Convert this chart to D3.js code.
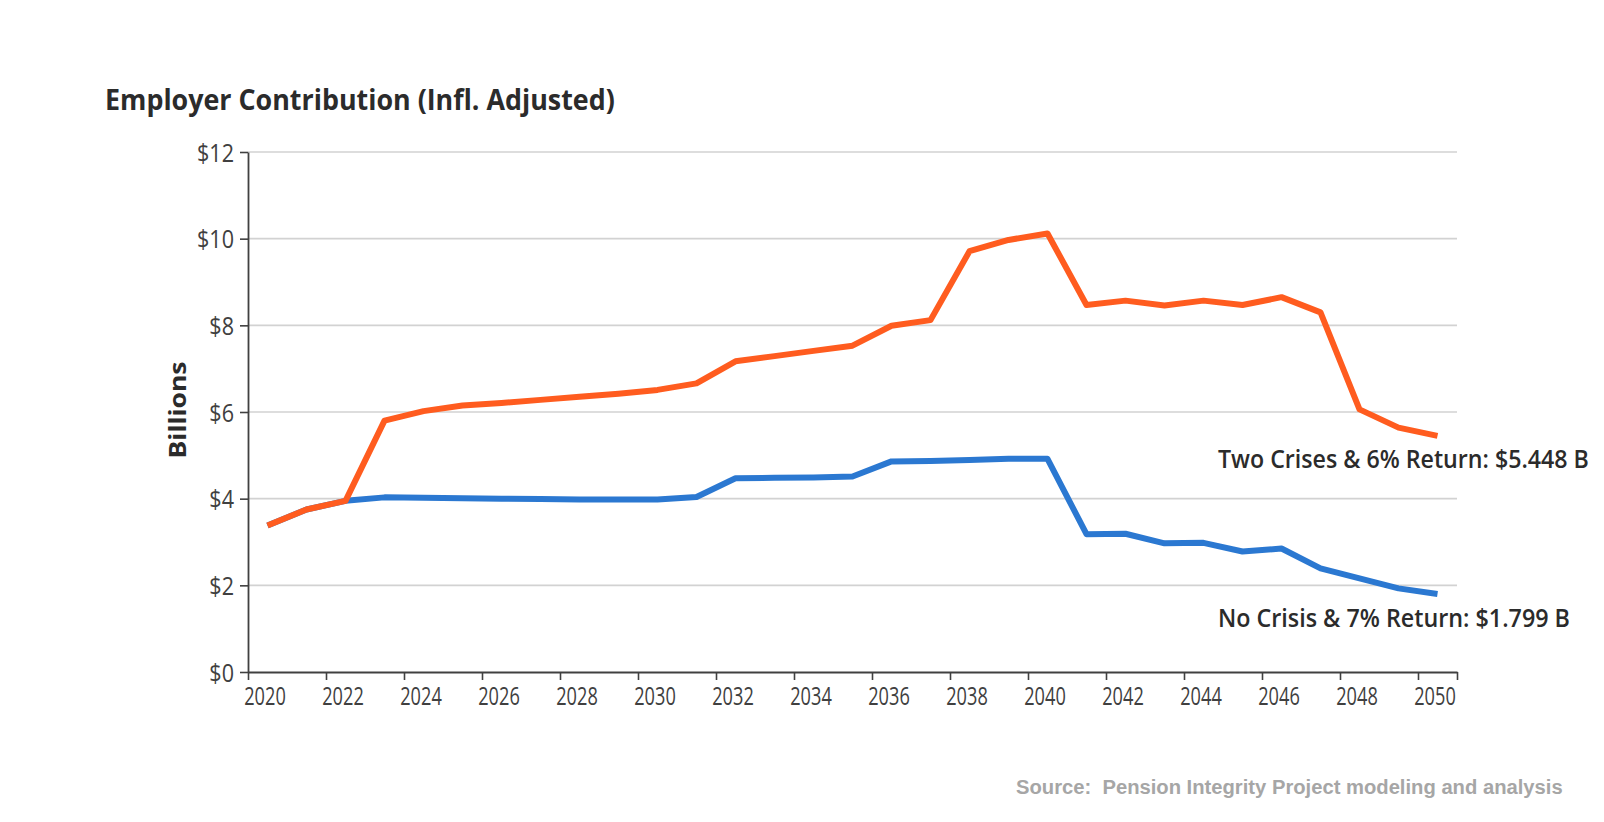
<!DOCTYPE html>
<html><head><meta charset="utf-8">
<script src="https://cdn.jsdelivr.net/npm/d3@7"></script>
<style>html,body{margin:0;padding:0;background:#fff;} svg{display:block;}</style>
</head><body>
<svg id="chart" width="1604" height="822"></svg>
<script>
const years = [2020,2021,2022,2023,2024,2025,2026,2027,2028,2029,2030,2031,2032,2033,2034,2035,2036,2037,2038,2039,2040,2041,2042,2043,2044,2045,2046,2047,2048,2049,2050];
const twoCrises = [3.38,3.75,3.95,5.80,6.02,6.15,6.21,6.28,6.35,6.42,6.51,6.66,7.17,7.29,7.41,7.53,7.99,8.12,9.71,9.97,10.12,8.47,8.57,8.46,8.57,8.47,8.65,8.30,6.06,5.64,5.448];
const noCrisis = [3.38,3.75,3.95,4.03,4.02,4.01,4.00,3.99,3.98,3.98,3.98,4.04,4.47,4.48,4.49,4.51,4.86,4.87,4.89,4.92,4.92,3.18,3.19,2.97,2.98,2.78,2.85,2.39,2.16,1.93,1.799];
const yTicks = [0,2,4,6,8,10,12];
const xLabelYears = [2020,2022,2024,2026,2028,2030,2032,2034,2036,2038,2040,2042,2044,2046,2048,2050];
const title = "Employer Contribution (Infl. Adjusted)";
const yTitle = "Billions";
const labelTwo = "Two Crises & 6% Return: $5.448 B";
const labelNo = "No Crisis & 7% Return: $1.799 B";
const source = "Source:  Pension Integrity Project modeling and analysis";

(function () {
const svg = d3.select("#chart");
const pLeft = 248, pRight = 1457, pTop = 152, pBottom = 672;
const x = d3.scaleLinear().domain([years[0]-0.5, years[years.length-1]+0.5]).range([pLeft, pRight]);
const y = d3.scaleLinear().domain([0, 12]).range([pBottom, pTop]);
const tickFont = "'Open Sans', sans-serif";
const SXY = 0.83, SXX = 0.70;

function fitText(str, px, py, width, opts) {
  const t = svg.append("text").text(str)
    .attr("font-family", opts.family).attr("font-weight", opts.weight)
    .attr("font-size", opts.size).attr("fill", opts.fill)
    .attr("text-anchor", opts.anchor || "start")
    .style("white-space", "pre").attr("xml:space", "preserve");
  const natural = t.node().getComputedTextLength();
  const k = width / natural;
  t.attr("transform", `translate(${px},${py}) ${opts.rotate ? "rotate(" + opts.rotate + ")" : ""} scale(${k},1)`);
  return t;
}

// gridlines
svg.append("g").selectAll("line").data(yTicks.filter(d => d > 0)).join("line")
  .attr("x1", pLeft).attr("x2", pRight)
  .attr("y1", d => y(d)).attr("y2", d => y(d))
  .attr("stroke", "#d2d2d2").attr("stroke-width", 1.6);

// y axis
const yAxis = svg.append("g").attr("transform", `translate(${pLeft},0)`)
  .call(d3.axisLeft(y).tickValues(yTicks).tickFormat(d => "$" + d).tickSize(8).tickSizeOuter(0));
yAxis.select(".domain").attr("stroke", "#404040").attr("stroke-width", 1.8);
yAxis.selectAll(".tick line").attr("stroke", "#404040").attr("stroke-width", 1.6);
yAxis.selectAll(".tick text")
  .attr("font-family", tickFont).attr("font-size", 26).attr("fill", "#404040")
  .attr("x", -14 / SXY).attr("dy", "0.35em")
  .attr("transform", `scale(${SXY},1)`);

// x axis: ticks at category boundaries
const bounds = xLabelYears.map(d => d - 0.5).concat([years[years.length-1] + 0.5]);
const xAxis = svg.append("g").attr("transform", `translate(0,${pBottom})`)
  .call(d3.axisBottom(x).tickValues(bounds).tickFormat("").tickSize(8).tickSizeOuter(0));
xAxis.select(".domain").attr("stroke", "#404040").attr("stroke-width", 1.8);
xAxis.selectAll(".tick line").attr("stroke", "#404040").attr("stroke-width", 1.6);

const xLab = svg.append("g").attr("transform", `translate(-3,${pBottom})`)
  .call(d3.axisBottom(x).tickValues(xLabelYears).tickFormat(d3.format("d")).tickSize(0));
xLab.select(".domain").remove();
xLab.selectAll(".tick text")
  .attr("font-family", tickFont).attr("font-size", 26).attr("fill", "#404040")
  .attr("y", 33).attr("dy", 0).attr("x", 0)
  .attr("transform", `scale(${SXX},1)`);

// lines
const line = arr => d3.line().x((d, i) => x(years[i])).y(d => y(d))(arr);
svg.append("path").attr("d", line(noCrisis)).attr("fill", "none")
  .attr("stroke", "#2b78d1").attr("stroke-width", 6).attr("stroke-linejoin", "round");
svg.append("path").attr("d", line(twoCrises)).attr("fill", "none")
  .attr("stroke", "#ff5c1f").attr("stroke-width", 6).attr("stroke-linejoin", "round");

const dark = "#2b2b2b";
fitText(title, 105, 110, 510, {family: "'Open Sans', sans-serif", weight: 700, size: 29, fill: dark});
fitText(yTitle, 186, 410, 97, {family: "'Open Sans', sans-serif", weight: 700, size: 23, fill: dark, anchor: "middle", rotate: -90});
fitText(labelTwo, 1218, 468, 371, {family: "'Open Sans', sans-serif", weight: 600, size: 26, fill: dark});
fitText(labelNo, 1218, 627, 352, {family: "'Open Sans', sans-serif", weight: 600, size: 26, fill: dark});
fitText(source, 1016, 794, 547, {family: "'Liberation Sans', Arial, sans-serif", weight: 700, size: 20, fill: "#a6a6a6"});
})();
</script>
</body></html>
